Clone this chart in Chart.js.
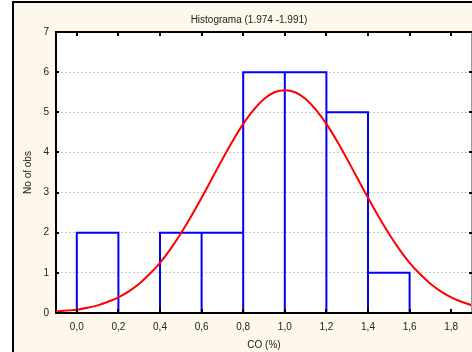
<!DOCTYPE html>
<html>
<head>
<meta charset="utf-8">
<script src="https://cdn.jsdelivr.net/npm/chart.js@4"></script>
<style>
    html, body { margin: 0; padding: 0; background: #fff; }
    #wrap { position: relative; width: 472px; height: 352px; overflow: hidden; }
    #frame {
        position: absolute; left: 12px; top: 1px; width: 480px; height: 370px;
        border-left: 2px solid #000; border-top: 2px solid #000;
        background: #fdf8eb;
    }
    #chart { position: absolute; left: 0; top: 0; }
</style>
</head>
<body>
<div id="wrap">
    <div id="frame"></div>
    <canvas id="chart" width="472" height="352"></canvas>
</div>
<script>
/* -----------------------------------------
   datos
----------------------------------------- */
const binEdges = [0.0, 0.2, 0.4, 0.6, 0.8, 1.0, 1.2, 1.4, 1.6, 1.8];
const counts = [2, 0, 2, 2, 6, 6, 5, 1, 0];

// curva normal
const curveX = [-0.1, -0.05, 0.0, 0.05, 0.1, 0.15, 0.2, 0.25, 0.3, 0.35, 0.4, 0.45, 0.5, 0.55,
    0.6, 0.65, 0.7, 0.75, 0.8, 0.85, 0.9, 0.95, 1.0, 1.05, 1.1, 1.15, 1.2, 1.25, 1.3, 1.35,
    1.4, 1.45, 1.5, 1.55, 1.6, 1.65, 1.7, 1.75, 1.8, 1.85, 1.9];
const curveY = [0.04, 0.06, 0.08, 0.13, 0.19, 0.28, 0.39, 0.54, 0.73, 0.97, 1.25, 1.59, 1.98, 2.41,
    2.87, 3.35, 3.83, 4.29, 4.71, 5.06, 5.33, 5.50, 5.55, 5.50, 5.33, 5.06, 4.71, 4.29, 3.83, 3.35,
    2.87, 2.41, 1.98, 1.59, 1.25, 0.97, 0.73, 0.54, 0.39, 0.28, 0.19];

const xTicks = [0.0, 0.2, 0.4, 0.6, 0.8, 1.0, 1.2, 1.4, 1.6, 1.8];
const yTicks = [0, 1, 2, 3, 4, 5, 6, 7];

const titleText = "Histograma (1.974 -1.991)";
const xTitle = "CO (%)";
const yTitle = "No of obs";

/* -----------------------------------------
   contorno del histograma
----------------------------------------- */
const histPoints = [];
counts.forEach((c, i) => {
    if (!c) return;
    const lo = binEdges[i], hi = binEdges[i + 1];
    histPoints.push({ x: lo, y: 0 }, { x: lo, y: c }, { x: hi, y: c }, { x: hi, y: 0 });
    histPoints.push({ x: hi, y: null });
});

const curvePoints = curveX.map((x, i) => ({ x: x, y: curveY[i] }));

/* -----------------------------------------
   marco, fondo y marcas
----------------------------------------- */
const framePlugin = {
    id: "framePlugin",
    beforeDraw(chart) {
        const a = chart.chartArea, ctx = chart.ctx;
        ctx.save();
        ctx.fillStyle = "#fff";
        ctx.fillRect(a.left, a.top, a.right - a.left, a.bottom - a.top);
        ctx.restore();
    },
    afterDraw(chart) {
        const a = chart.chartArea, ctx = chart.ctx;
        const xs = chart.scales.x, ys = chart.scales.y;
        ctx.save();
        ctx.strokeStyle = "#999";
        ctx.lineWidth = 1;
        ctx.beginPath();
        ctx.moveTo(a.right - 0.5, a.top);
        ctx.lineTo(a.right - 0.5, a.bottom);
        ctx.stroke();

        ctx.strokeStyle = "#000";
        ctx.lineWidth = 2;
        ctx.beginPath();
        ctx.moveTo(a.left - 1, a.top);
        ctx.lineTo(a.right, a.top);
        ctx.stroke();

        xTicks.forEach(v => {
            const px = Math.round(xs.getPixelForValue(v));
            ctx.beginPath();
            ctx.moveTo(px, a.top);
            ctx.lineTo(px, a.top + 4);
            ctx.moveTo(px, a.bottom);
            ctx.lineTo(px, a.bottom - 4);
            ctx.stroke();
        });
        yTicks.forEach(v => {
            const py = Math.round(ys.getPixelForValue(v));
            ctx.beginPath();
            ctx.moveTo(a.left, py);
            ctx.lineTo(a.left + 3, py);
            ctx.moveTo(a.right, py);
            ctx.lineTo(a.right - 3, py);
            ctx.stroke();
        });
        ctx.restore();
    }
};

const baseFont = { family: "'Liberation Sans', Arial, sans-serif", size: 10 };

new Chart(document.getElementById("chart"), {
    type: "line",
    data: {
        datasets: [
            {
                data: curvePoints,
                borderColor: "#ff0000",
                borderWidth: 2,
                pointRadius: 0,
                tension: 0.3,
                fill: false,
                order: 0
            },
            {
                data: histPoints,
                borderColor: "#0000ff",
                borderWidth: 2,
                pointRadius: 0,
                tension: 0,
                spanGaps: false,
                fill: false,
                order: 1
            }
        ]
    },
    options: {
        responsive: false,
        animation: false,
        devicePixelRatio: 1,
        layout: { padding: { left: 26, right: 0, top: 0, bottom: 0 } },
        plugins: {
            legend: { display: false },
            tooltip: { enabled: false },
            title: {
                display: true,
                text: titleText,
                color: "#222",
                font: { ...baseFont, weight: "normal" },
                padding: { top: 14, bottom: 6 }
            }
        },
        scales: {
            x: {
                type: "linear",
                min: -0.1,
                max: 1.9,
                afterBuildTicks: s => { s.ticks = xTicks.map(v => ({ value: v })); },
                afterFit: s => { s.height = 39; },
                grid: { display: false, drawTicks: false },
                border: { color: "#000", width: 2 },
                ticks: {
                    color: "#222",
                    font: baseFont,
                    padding: 8,
                    maxRotation: 0,
                    callback: v => Number(v).toFixed(1).replace(".", ",")
                },
                title: { display: true, text: xTitle, color: "#222", font: baseFont, padding: { top: 0, bottom: 1 } }
            },
            y: {
                min: 0,
                max: 7,
                afterBuildTicks: s => { s.ticks = yTicks.map(v => ({ value: v })); },
                afterFit: s => { s.width = 30; },
                grid: { color: "#c8c8c8", lineWidth: 1, drawTicks: false },
                border: { color: "#000", width: 2, dash: [2, 2] },
                ticks: { color: "#222", font: baseFont, padding: 7 },
                title: { display: true, text: yTitle, color: "#222", font: baseFont, padding: { top: -4, bottom: 0 } }
            }
        }
    },
    plugins: [framePlugin]
});
</script>
</body>
</html>
